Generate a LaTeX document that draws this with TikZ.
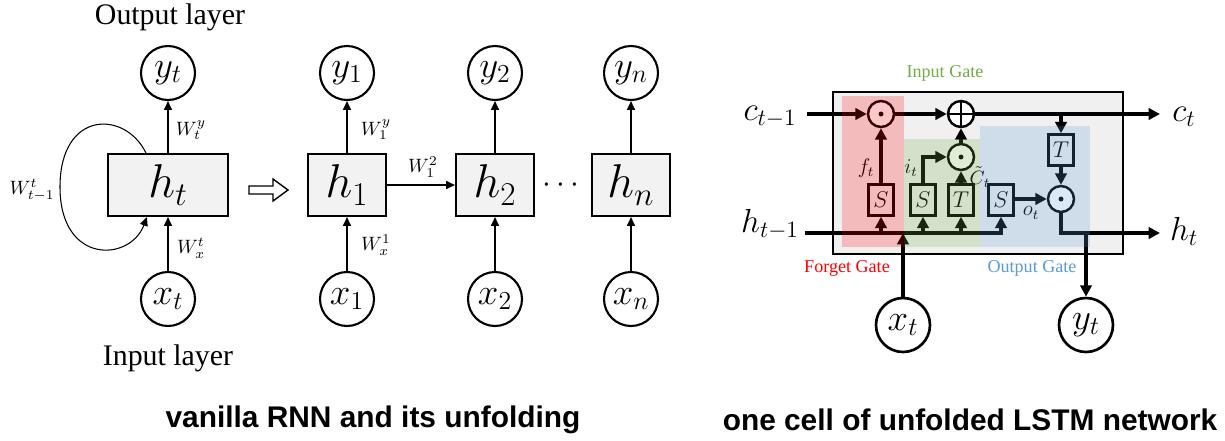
\RequirePackage{fix-cm}
\documentclass[tikz,border=0pt]{standalone}
\usepackage{fontspec}
\setmainfont{Liberation Serif}
\setsansfont{Liberation Sans}
\usetikzlibrary{arrows.meta,calc}
\definecolor{boxgray}{HTML}{F2F2F2}
\definecolor{cellgray}{HTML}{F0F0F0}
\definecolor{fgred}{HTML}{FF0000}
\definecolor{ingreen}{HTML}{70AD47}
\definecolor{outblue}{HTML}{5B9BD5}
\tikzset{
  rnncirc/.style={circle,draw,line width=1.2pt,minimum size=1.08cm,inner sep=0pt,font=\fontsize{21}{24}\selectfont},
  rnnbox/.style={draw,fill=boxgray,line width=1.2pt,minimum height=1.24cm,inner sep=0pt,font=\fontsize{27}{30}\selectfont},
  rnnarr/.style={-{Triangle[length=5pt,width=4.5pt]},line width=0.9pt},
  wlab/.style={font=\fontsize{11}{13}\selectfont},
  layerlab/.style={font=\fontsize{17}{20}\selectfont},
  title/.style={font=\sffamily\bfseries\fontsize{17}{20}\selectfont},
  lline/.style={line width=1.9pt},
  larr/.style={lline,-{Triangle[length=6.5pt,width=6.5pt]}},
  gatebox/.style={draw,line width=1.4pt,minimum width=0.5cm,minimum height=0.62cm,inner sep=0pt,font=\fontsize{13}{15}\selectfont},
  opcirc/.style={circle,draw,fill=white,line width=1.4pt,minimum size=0.52cm,inner sep=0pt},
  biglab/.style={font=\fontsize{19}{22}\selectfont,anchor=base},
  smalllab/.style={font=\fontsize{12}{14}\selectfont},
  gatelab/.style={font=\fontsize{10.3}{12}\selectfont}
}
\begin{document}
\begin{tikzpicture}[x=0.02cm,y=-0.02cm]
\useasboundingbox (0,0) rectangle (1225,440);

% ---------- vanilla RNN ----------
\node[layerlab] (outlab) at (170,17) {Output layer};
\node[layerlab] (inlab) at (168,358) {Input layer};
\node[rnnbox,minimum width=2.4cm] (ht) at (168,185) {$h_t$};
\node[rnncirc] (yt0) at (168,73) {$y_t$};
\node[rnncirc] (xt0) at (168,299) {$x_t$};
\draw[rnnarr] (xt0) -- (ht);
\draw[rnnarr] (ht) -- (yt0);
\node[wlab] (wy) at (191,130) {$W_t^y$};
\node[wlab] (wx) at (191,248) {$W_x^t$};
\node[wlab] (wh) at (32,190) {$W_{t-1}^t$};
\draw[-{Triangle[length=5pt,width=4.5pt]},line width=0.6pt]
  ($(ht.north west)+(39,0)$) .. controls (125,110) and (60,110) .. (60,187)
  .. controls (60,265) and (130,262) .. ($(ht.south west)+(40,0)$);

% hollow arrow
\draw[line width=0.8pt] (249,186) -- (273,186) -- (273,179) -- (288,190) -- (273,201) -- (273,194) -- (249,194) -- cycle;

% unfolded
\foreach \n/\x/\s in {1/347/1,2/495/2,n/631/n}{
  \node[rnnbox,minimum width=1.56cm] (h\n) at (\x,185) {$h_{\s}$};
  \node[rnncirc] (y\n) at (\x,73) {$y_{\s}$};
  \node[rnncirc] (x\n) at (\x,299) {$x_{\s}$};
  \draw[rnnarr] (x\n) -- (h\n);
  \draw[rnnarr] (h\n) -- (y\n);
}
\draw[rnnarr] (h1) -- (h2);
\node[wlab] (w1y) at (376,130) {$W_1^y$};
\node[wlab] (w1x) at (376,245) {$W_x^1$};
\node[wlab] (w12) at (423,167) {$W_1^2$};
\node[font=\fontsize{18}{20}\selectfont] (dots) at (561,185) {$\cdots$};

\node[title] (t1) at (373,420) {vanilla RNN and its unfolding};
\node[title] (t2) at (970,420) {one cell of unfolded LSTM network};

% ---------- LSTM cell ----------
\draw[line width=1.6pt, fill=cellgray] (833,92) rectangle (1123,254);

\coordinate (cin) at (807,114);
\coordinate (cout) at (1160,114);
\coordinate (hin) at (805,233);
\coordinate (hend) at (1160,233);

\node[opcirc] (fmul) at (881,114) {};
\node[opcirc] (add) at (961,114) {};
\node[opcirc] (imul) at (961,157) {};
\node[opcirc] (omul) at (1061,199) {};
\foreach \c in {fmul,imul,omul}{\fill (\c.center) circle (1.4pt);}
\draw[line width=1.4pt] (add.north) -- (add.south) (add.west) -- (add.east);

\node[gatebox] (fS) at (881,200) {$S$};
\node[gatebox] (iS) at (923,200) {$S$};
\node[gatebox] (iT) at (961,200) {$T$};
\node[gatebox] (oS) at (1001,200) {$S$};
\node[gatebox] (oT) at (1061,150) {$T$};

\node[rnncirc,line width=1.5pt] (xt) at (903,325) {$x_t$};
\node[rnncirc,line width=1.5pt] (yt) at (1086,325) {$y_t$};

\draw[larr] (cin) -- (fmul.west);
\draw[larr] (fmul.east) -- (add.west);
\draw[larr] (add.east) -- (cout);
\draw[larr] (oT |- cout) -- (oT.north);
\draw[larr] (oT.south) -- (omul.north);
\draw[larr] (oS.east |- omul.west) -- (omul.west);
\draw[larr] (hin) -| (oS.south);
\draw[larr] (fS.south |- hin) -- (fS.south);
\draw[larr] (iS.south |- hin) -- (iS.south);
\draw[larr] (iT.south |- hin) -- (iT.south);
\draw[larr] (fS.north) -- (fmul.south);
\draw[larr] (iS.north) |- (imul.west);
\draw[larr] (iT.north) -- (imul.south);
\draw[larr] (imul.north) -- (add.south);
\draw[larr] (xt.north) -- (xt.north |- hin);
\draw[larr] (omul.south) |- (hend);
\draw[larr] (yt.north |- hend) -- (yt.north);

\node[smalllab] (ft) at (866,168) {$f_t$};
\node[smalllab] (it) at (911,168) {$i_t$};
\node[font=\fontsize{11}{13}\selectfont] (ct) at (980,177) {$\tilde{C}_t$};
\node[smalllab] (ot) at (1031,213) {$o_t$};

\node[biglab] (cprev) at (770,120) {$c_{t-1}$};
\node[biglab] (hprev) at (770,232) {$h_{t-1}$};
\node[biglab] (cnext) at (1184,121) {$c_t$};
\node[biglab] (hnext) at (1184,240) {$h_t$};

% gate regions (translucent overlays)
\fill[fgred, fill opacity=0.22] (842,96) rectangle (904,247);
\fill[ingreen, fill opacity=0.22] (904,139) rectangle (980,247);
\fill[outblue, fill opacity=0.22] (980,126) rectangle (1090,247);

\node[gatelab,text=fgred] (fglab) at (847,268) {Forget Gate};
\node[gatelab,text=ingreen] (iglab) at (945,73) {Input Gate};
\node[gatelab,text=outblue] (oglab) at (1032,268) {Output Gate};
\end{tikzpicture}
\end{document}
